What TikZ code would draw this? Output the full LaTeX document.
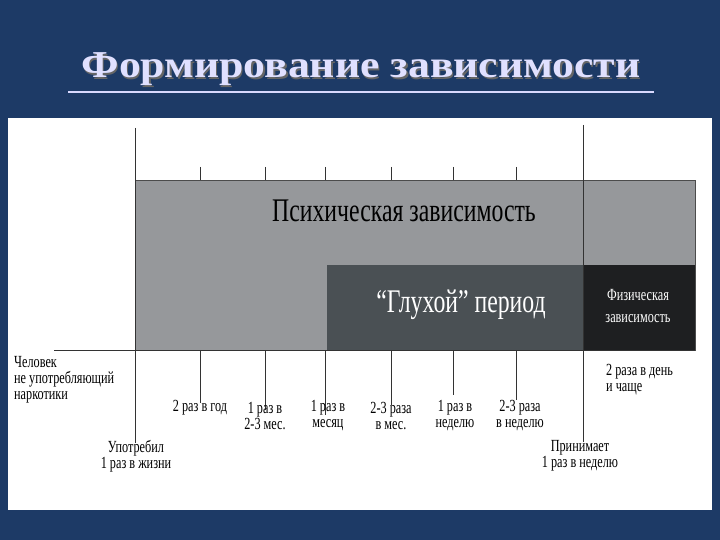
\documentclass[tikz,border=0pt]{standalone}
\usepackage{fontspec}
\setmainfont{Liberation Serif}
\newfontfamily\cond[FakeStretch=0.72]{Liberation Serif}
\newfontfamily\wide[FakeStretch=1.15]{Liberation Serif}
\definecolor{bgblue}{HTML}{1D3A66}
\definecolor{graybox}{HTML}{96989B}
\definecolor{darkbox}{HTML}{4A5054}
\definecolor{blackbox}{HTML}{1E1F21}
\begin{document}
\begin{tikzpicture}[x=1pt,y=-1pt,
  lbl/.style={font=\cond\fontsize{17}{16}\selectfont,align=center,inner sep=0pt},
  ln/.style={draw=black!80,line width=0.6pt}]
\useasboundingbox (0,0) rectangle (720,540);
\fill[bgblue] (0,0) rectangle (720,540);
\node[text=white!88!blue,font=\wide\bfseries\fontsize{38}{38}\selectfont,
  preaction={}] (title) at (361,70) {\rlap{\color{black!60}\kern1.5pt\raisebox{-1.5pt}{Формирование зависимости}}Формирование зависимости};
\draw[white!85!blue,line width=1.2pt] (68,92) -- (654,92);
\fill[white] (8,118) rectangle (712,510);
% boxes
\node[fill=graybox,draw=black!70,minimum width=560,minimum height=170,anchor=north west,inner sep=0] (psy) at (135,180) {};
\node[fill=darkbox,minimum width=256,minimum height=85,anchor=north west,inner sep=0] (deaf) at (327,265) {};
\node[fill=blackbox,minimum width=112,minimum height=85,anchor=north west,inner sep=0] (phys) at (583,265) {};
\node[font=\cond\fontsize{33}{33}\selectfont] at (404,211) {Психическая зависимость};
\node[text=white,font=\cond\fontsize{33}{33}\selectfont] at (461,305) {“Глухой” период};
\node[text=white,lbl,font=\cond\fontsize{17}{22}\selectfont] at (638,306) {Физическая\\зависимость};
% axis
\coordinate (a0) at (54,350);
\coordinate (a1) at (695,350);
\draw[ln] (a0) -- (a1);
\draw[ln] (135,128) -- (135,443);
\draw[ln] (583,125) -- (583,442);
\foreach \x/\yb in {200/403,265/410,325/415,391/405,453/395,516/400}{
  \draw[ln] (\x,167) -- (\x,180);
  \draw[ln] (\x,350) -- (\x,\yb);
}
% labels
\node[lbl,align=left,anchor=north west] at (14,356) {Человек\\не употребляющий\\наркотики};
\node[lbl] at (200,408) {2 раз в год};
\node[lbl] at (265,416) {1 раз в\\2-3 мес.};
\node[lbl] at (328,416) {1 раз в\\месяц};
\node[lbl] at (391,416) {2-3 раза\\в мес.};
\node[lbl] at (455,416) {1 раз в\\неделю};
\node[lbl] at (520,416) {2-3 раза\\в неделю};
\node[lbl] at (136,456) {Употребил\\1 раз в жизни};
\node[lbl] at (580,456) {Принимает\\1 раз в неделю};
\node[lbl,align=left,anchor=north west] at (606,364) {2 раза в день\\и чаще};
\end{tikzpicture}
\end{document}
